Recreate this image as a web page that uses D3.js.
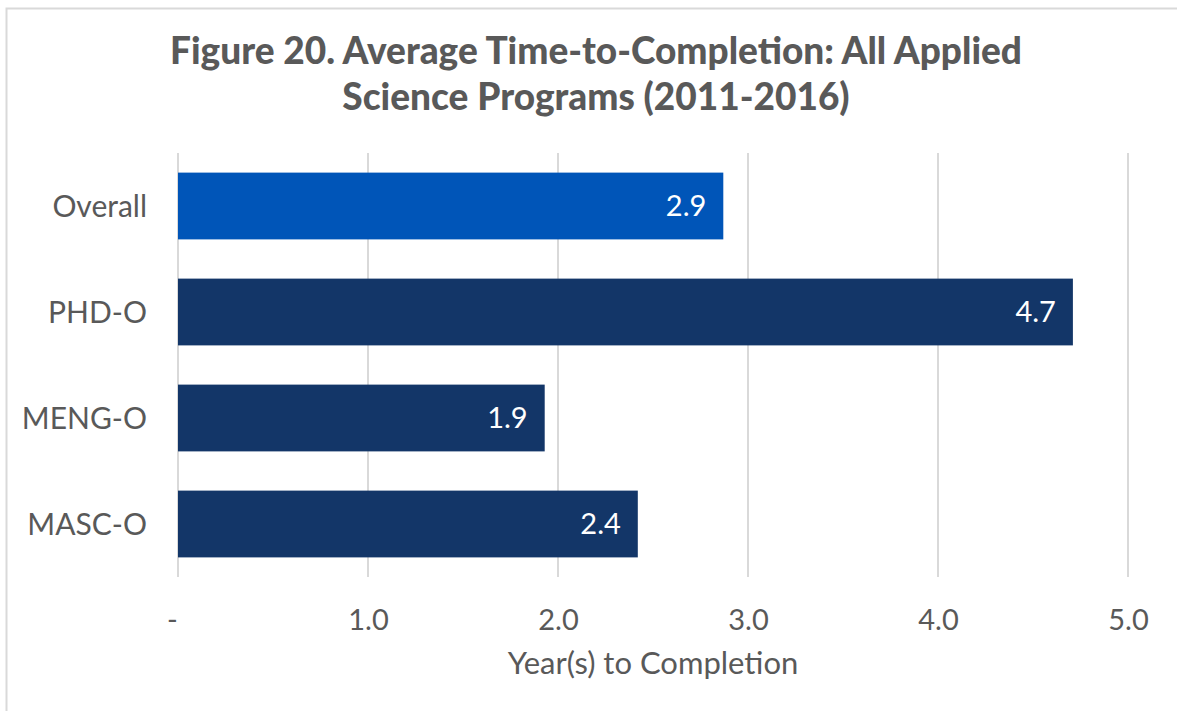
<!DOCTYPE html>
<html>
<head>
<meta charset="utf-8">
<script src="https://cdn.jsdelivr.net/npm/d3@7"></script>
<style>
  body { margin: 0; background: #fff; }
  text { font-family: Lato, "Open Sans", sans-serif; fill: #595959; }
</style>
</head>
<body>
<svg id="chart"></svg>
<script>
// data
const categories = ["Overall", "PHD-O", "MENG-O", "MASC-O"];
const years = [2.87, 4.71, 1.93, 2.42];
const labels = ["2.9", "4.7", "1.9", "2.4"];
const tickValues = [0, 1, 2, 3, 4, 5];
const tickLabels = ["-", "1.0", "2.0", "3.0", "4.0", "5.0"];

const width = 1177, height = 711;
const margin = {top: 153, right: 49, bottom: 134, left: 178};

const svg = d3.select("#chart")
    .attr("width", width)
    .attr("height", height);

// outer frame
svg.append("rect")
    .attr("x", 6.5).attr("y", 8.5)
    .attr("width", width + 20).attr("height", height + 20)
    .attr("fill", "none")
    .attr("stroke", "#d9d9d9")
    .attr("stroke-width", 2);

// title
let title = svg.append("text")
    .attr("text-anchor", "middle")
    .attr("x", 596)
    .style("font-size", "37px")
    .style("font-weight", "900");
title.append("tspan").attr("x", 596).attr("y", 64).text("Figure 20. Average Time-to-Completion: All Applied");
title.append("tspan").attr("x", 596).attr("y", 110).text("Science Programs (2011-2016)");

let g = svg.append("g")
    .attr("transform", "translate(" + margin.left + "," + margin.top + ")");

let w = width - margin.left - margin.right;
let h = height - margin.top - margin.bottom;

let x = d3.scaleLinear().domain([0, 5]).range([0, w]);
let y = d3.scaleBand().domain(categories).range([0, h]).paddingInner(0.37).paddingOuter(0.185);

// gridlines
g.selectAll(".grid")
    .data(tickValues)
    .enter().append("line")
    .attr("class", "grid")
    .attr("x1", d => x(d)).attr("x2", d => x(d))
    .attr("y1", 0).attr("y2", h)
    .attr("stroke", "#d9d9d9")
    .attr("stroke-width", 2);

// bars
g.selectAll(".bar")
    .data(years)
    .enter().append("rect")
    .attr("class", "bar")
    .attr("x", 0)
    .attr("y", (d, i) => y(categories[i]))
    .attr("width", d => x(d))
    .attr("height", y.bandwidth())
    .attr("fill", (d, i) => i == 0 ? "#0055b8" : "#133668");

// value labels inside bar ends
g.selectAll(".val")
    .data(years)
    .enter().append("text")
    .attr("class", "val")
    .attr("x", d => x(d) - 17)
    .attr("y", (d, i) => y(categories[i]) + y.bandwidth() / 2)
    .attr("dy", "0.35em")
    .attr("text-anchor", "end")
    .style("font-size", "29px")
    .style("fill", "#fff")
    .text((d, i) => labels[i]);

// category labels
g.selectAll(".cat")
    .data(categories)
    .enter().append("text")
    .attr("class", "cat")
    .attr("x", -31)
    .attr("y", d => y(d) + y.bandwidth() / 2)
    .attr("dy", "0.35em")
    .attr("text-anchor", "end")
    .style("font-size", "30px")
    .text(d => d);

// x axis
let xAxis = d3.axisBottom(x)
    .tickValues(tickValues)
    .tickFormat((d, i) => tickLabels[i])
    .tickSize(0)
    .tickPadding(32);

let ax = g.append("g")
    .attr("transform", "translate(0," + h + ")")
    .call(xAxis);
ax.select(".domain").remove();
ax.selectAll("text")
    .style("font-size", "29px")
    .style("font-family", "Lato, 'Open Sans', sans-serif")
    .attr("fill", "#595959");
ax.selectAll(".tick").filter(d => d === 0).select("text").attr("dx", -6);

// axis title
g.append("text")
    .attr("x", w / 2)
    .attr("y", h + 97)
    .attr("text-anchor", "middle")
    .style("font-size", "31px")
    .text("Year(s) to Completion");
</script>
</body>
</html>
